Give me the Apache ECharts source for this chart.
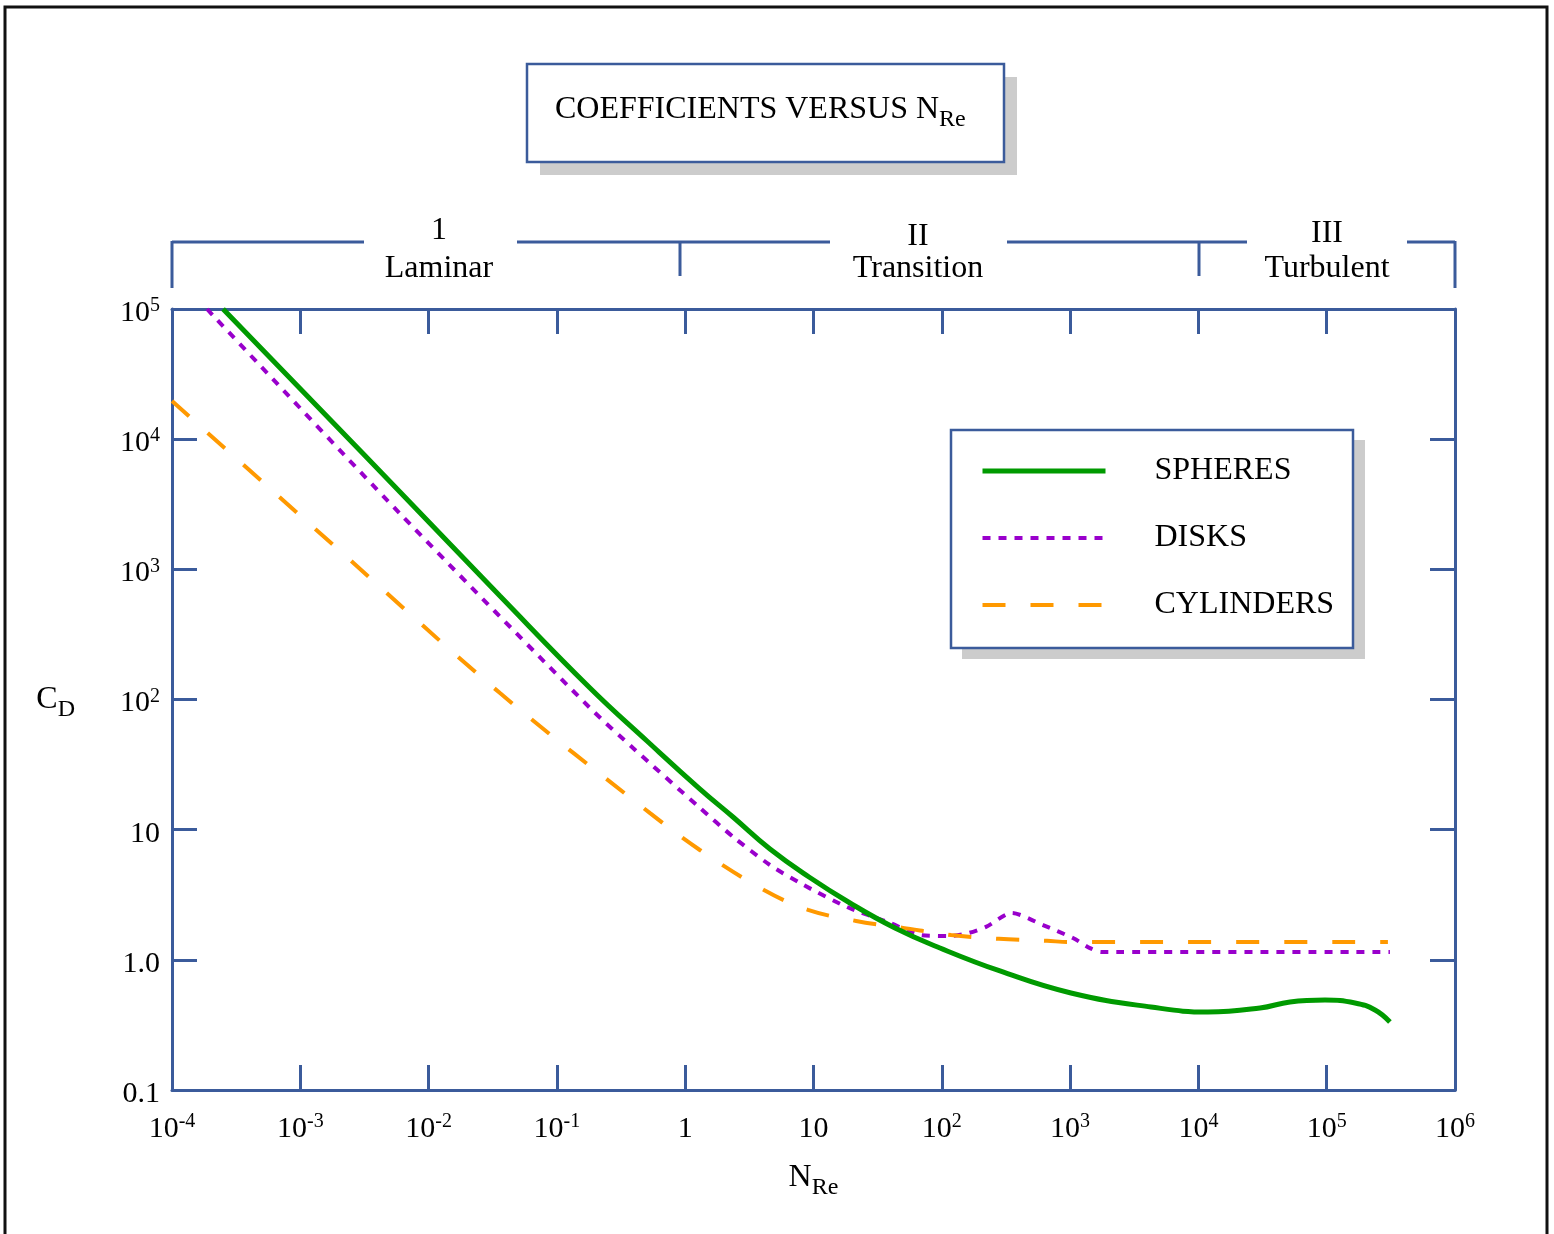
<!DOCTYPE html>
<html><head><meta charset="utf-8">
<script src="https://cdn.jsdelivr.net/npm/echarts@6/dist/echarts.min.js"></script>
<style>html,body{margin:0;padding:0;background:#fff}#c{width:1554px;height:1234px}</style>
</head><body><div id="c"></div>
<script>
// ---------- data ----------
const seriesNames = ['SPHERES', 'DISKS', 'CYLINDERS'];

const spheresRe = [2.5e-4, 5.985e-3, 0.036, 0.1811, 0.5038, 1.304, 2.358, 4.58, 9.225, 19.25, 43.17, 96.8, 284, 1016, 4271, 11880, 30200, 51760, 97000, 166200, 238000, 311000];
const spheresCd = [1e5, 3928, 624, 122.6, 48.0, 20.5, 12.51, 7.10, 4.329, 2.733, 1.757, 1.233, 0.821, 0.556, 0.434, 0.3975, 0.4266, 0.4745, 0.4914, 0.4661, 0.4119, 0.3331];

const disksRe = [1.875e-4, 5.98e-3, 0.181, 0.392, 1.304, 2.37, 4.58, 8.36, 18.2, 39.5, 68.9, 118, 163, 221, 352, 615, 1053, 1429, 1741, 311000];
const disksCd = [1e5, 2681, 86.1, 42.4, 14.67, 8.79, 5.35, 3.76, 2.55, 1.92, 1.55, 1.525, 1.61, 1.79, 2.29, 1.85, 1.47, 1.23, 1.15, 1.15];

const cylindersRe = [1e-4, 2.04e-3, 0.036, 0.532, 1.30, 4.11, 9.06, 21.5, 49.9, 118, 279, 661, 980, 300000];
const cylindersCd = [19650, 1383, 112, 13.4, 6.98, 3.44, 2.42, 1.99, 1.76, 1.55, 1.45, 1.40, 1.37, 1.37];

const xTickLabels = ['10^-4', '10^-3', '10^-2', '10^-1', '1', '10', '10^2', '10^3', '10^4', '10^5', '10^6'];
const yTickLabels = ['0.1', '1.0', '10', '10^2', '10^3', '10^4', '10^5'];
const regionNumbers = ['1', 'II', 'III'];
const regionNames = ['Laminar', 'Transition', 'Turbulent'];

// ---------- styling ----------
const FONT = '"Liberation Serif", "Times New Roman", serif';
const BLUE = '#3b5b9b';
const X_MIN_EXP = -4, Y_MIN_EXP = -1;

function toRich(label) {
  const i = label.indexOf('^');
  if (i < 0) return '{b|' + label + '}';
  return '{b|' + label.slice(0, i) + '}{s|' + label.slice(i + 1) + '}';
}
const tickRich = {
  b: { fontFamily: FONT, fontSize: 30, fontWeight: 'normal', color: '#000', lineHeight: 30, verticalAlign: 'bottom' },
  s: { fontFamily: FONT, fontSize: 20, fontWeight: 'normal', color: '#000', lineHeight: 20, verticalAlign: 'bottom', padding: [0, 0, 12, 0] }
};
const subRich = {
  m: { fontFamily: FONT, fontSize: 32, fontWeight: 'normal', color: '#000', lineHeight: 32, verticalAlign: 'top' },
  d: { fontFamily: FONT, fontSize: 24, fontWeight: 'normal', color: '#000', lineHeight: 24, verticalAlign: 'top', padding: [14, 0, 0, 0] }
};

function pairs(xs, ys) { return xs.map((x, i) => [x, ys[i]]); }

const axisCommon = {
  type: 'log', logBase: 10, interval: 1,
  axisLine: { show: true, lineStyle: { color: BLUE, width: 3 } },
  axisTick: { show: true, inside: true, length: 25, lineStyle: { color: BLUE, width: 3 } },
  minorTick: { show: false },
  splitLine: { show: false },
  minorSplitLine: { show: false }
};

const chart = echarts.init(document.getElementById('c'), null, { renderer: 'canvas' });

const option = {
  backgroundColor: '#fff',
  animation: false,
  title: {
    text: '{m|COEFFICIENTS VERSUS N}{d|Re}',
    left: 555, top: 94,
    padding: 0,
    textStyle: { fontWeight: 'normal', rich: subRich }
  },
  grid: { left: 172, top: 309, width: 1283, height: 781, containLabel: false, outerBoundsMode: 'none' },
  legend: {
    orient: 'vertical',
    left: 980, top: 455,
    padding: 0,
    itemWidth: 123, itemHeight: 32, itemGap: 35,
    data: seriesNames,
    itemStyle: { opacity: 0 },
    lineStyle: { width: 'inherit', type: 'inherit' },
    textStyle: { fontFamily: FONT, fontSize: 32, color: '#000', lineHeight: 32, padding: [0, 0, 0, 44] }
  },
  xAxis: [
    Object.assign({}, axisCommon, {
      position: 'bottom', min: 1e-4, max: 1e6,
      name: '{m|N}{d|Re}', nameLocation: 'middle', nameGap: 72,
      nameTextStyle: { rich: subRich },
      axisLabel: {
        margin: 24,
        formatter: v => { const e = Math.round(Math.log10(v)); return toRich(xTickLabels[e - X_MIN_EXP] || ''); },
        rich: tickRich
      }
    }),
    Object.assign({}, axisCommon, {
      position: 'top', min: 1e-4, max: 1e6, axisLabel: { show: false }
    })
  ],
  yAxis: [
    Object.assign({}, axisCommon, {
      position: 'left', min: 0.1, max: 1e5,
      name: '{m|C}{d|D}', nameLocation: 'middle', nameRotate: 0, nameGap: 97,
      nameTextStyle: { rich: subRich },
      axisLabel: {
        margin: 12, padding: [8, 0, 0, 0],
        formatter: v => { const e = Math.round(Math.log10(v)); return toRich(yTickLabels[e - Y_MIN_EXP] || ''); },
        rich: tickRich
      }
    }),
    Object.assign({}, axisCommon, {
      position: 'right', min: 0.1, max: 1e5, axisLabel: { show: false }
    })
  ],
  series: [
    {
      name: seriesNames[0], type: 'line', xAxisIndex: 0, yAxisIndex: 0,
      data: pairs(spheresRe, spheresCd), symbol: 'none', smooth: 0.45,
      lineStyle: { color: '#009a00', width: 5, type: 'solid' }, itemStyle: { color: '#009a00' }, z: 4
    },
    {
      name: seriesNames[1], type: 'line', xAxisIndex: 0, yAxisIndex: 0,
      data: pairs(disksRe, disksCd), symbol: 'none', smooth: 0.25,
      lineStyle: { color: '#9900cc', width: 4, type: [8, 8], cap: 'butt' }, itemStyle: { color: '#9900cc' }, z: 3
    },
    {
      name: seriesNames[2], type: 'line', xAxisIndex: 0, yAxisIndex: 0,
      data: pairs(cylindersRe, cylindersCd), symbol: 'none', smooth: 0.35,
      lineStyle: { color: '#ff9900', width: 4, type: [23, 25], cap: 'butt' }, itemStyle: { color: '#ff9900' }, z: 3
    }
  ],
  graphic: { elements: [] }
};

// decorative frame, title box, legend box and region brackets
const g = [];
g.push({ type: 'rect', shape: { x: 5, y: 7, width: 1542, height: 1240 }, style: { fill: 'none', stroke: '#111', lineWidth: 3 }, z: 0 });
g.push({ type: 'rect', shape: { x: 540, y: 77, width: 477, height: 98 }, style: { fill: '#cccccc' }, z: 0 });
g.push({ type: 'rect', shape: { x: 527, y: 64, width: 477, height: 98 }, style: { fill: '#fff', stroke: BLUE, lineWidth: 2.5 }, z: 1 });
g.push({ type: 'rect', shape: { x: 962, y: 440, width: 403, height: 219 }, style: { fill: '#cccccc' }, z: 0 });
g.push({ type: 'rect', shape: { x: 951, y: 430, width: 402, height: 218 }, style: { fill: '#fff', stroke: BLUE, lineWidth: 2.5 }, z: 1 });

const bracketSegs = [[172, 364], [517, 830], [1007, 1247], [1407, 1455]];
bracketSegs.forEach(s => g.push({ type: 'line', shape: { x1: s[0], y1: 242, x2: s[1], y2: 242 }, style: { stroke: BLUE, lineWidth: 3 }, z: 1 }));
const bracketTicks = [[172, 288], [680, 276], [1199, 276], [1455, 288]];
bracketTicks.forEach(t => g.push({ type: 'line', shape: { x1: t[0], y1: 241, x2: t[0], y2: t[1] }, style: { stroke: BLUE, lineWidth: 3 }, z: 1 }));
const regionCenters = [[439, 231], [918, 237], [1327, 234]];
regionCenters.forEach((c, i) => {
  g.push({ type: 'text', x: c[0], y: c[1], style: { text: regionNumbers[i], font: '32px ' + FONT, fill: '#000', align: 'center', verticalAlign: 'middle' }, z: 1 });
  g.push({ type: 'text', x: c[0], y: 269, style: { text: regionNames[i], font: '32px ' + FONT, fill: '#000', align: 'center', verticalAlign: 'middle' }, z: 1 });
});
option.graphic.elements = g;

chart.setOption(option);
</script>
</body></html>
